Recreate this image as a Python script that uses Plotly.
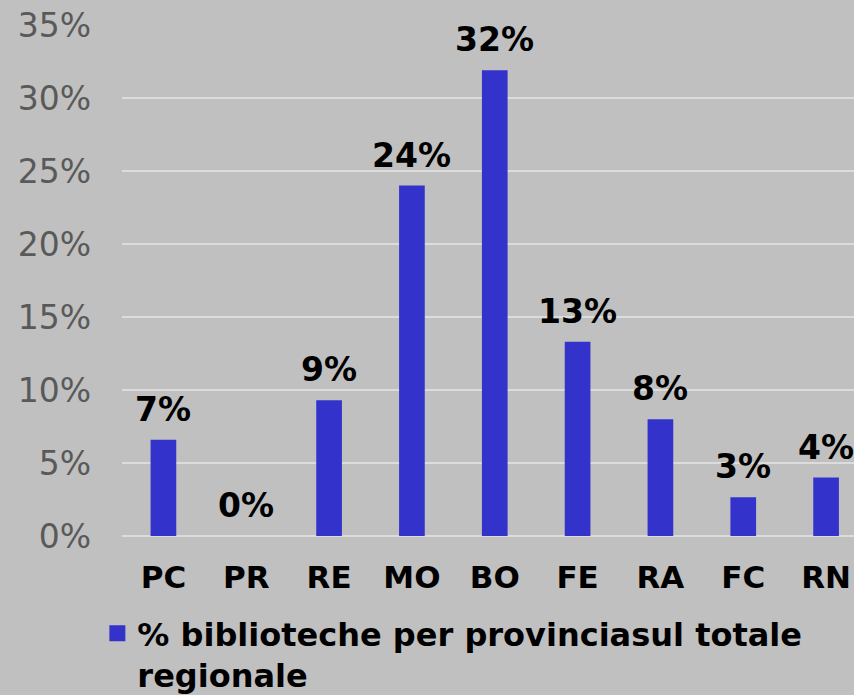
import plotly.graph_objects as go

categories = ["PC", "PR", "RE", "MO", "BO", "FE", "RA", "FC", "RN"]
values = [0.066, 0.0, 0.093, 0.240, 0.319, 0.133, 0.080, 0.0265, 0.040]
labels = ["7%", "0%", "9%", "24%", "32%", "13%", "8%", "3%", "4%"]
series_name = "% biblioteche per provinciasul totale<br>regionale"
y_ticks = [0, 0.05, 0.10, 0.15, 0.20, 0.25, 0.30, 0.35]

FONT = "DejaVu Sans"
BAR_COLOR = "#3333cc"
fig = go.Figure()
fig.add_trace(go.Bar(
    x=categories, y=values, name=series_name,
    marker=dict(color=BAR_COLOR, line=dict(width=0)),
    width=0.31, showlegend=False,
))
# legend entry for the series (larger square swatch)
fig.add_trace(go.Scatter(
    x=[None], y=[None], mode="markers", name=series_name,
    marker=dict(symbol="square", size=18, color=BAR_COLOR),
    showlegend=True, hoverinfo="skip",
))
for c, v, t in zip(categories, values, labels):
    fig.add_annotation(x=c, y=v, text="<b>%s</b>" % t, showarrow=False,
                       yanchor="bottom", yshift=9,
                       font=dict(family=FONT, size=33, color="black"))

fig.update_layout(
    width=854, height=695,
    paper_bgcolor="#c0c0c0", plot_bgcolor="#c0c0c0",
    margin=dict(l=122, r=0, t=25, b=159, autoexpand=False),
    font=dict(family=FONT),
    showlegend=True,
    legend=dict(
        xref="container", yref="container", x=0.114, y=1 - 606 / 695,
        xanchor="left", yanchor="top", valign="top",
        font=dict(family=FONT, size=32, color="black", weight="bold"),
        bgcolor="rgba(0,0,0,0)", itemwidth=30, tracegroupgap=0,
        itemsizing="trace",
    ),
)
fig.update_xaxes(
    range=[-0.5, 8.337], showgrid=False, showline=False, ticks="",
    tickfont=dict(family=FONT, size=31, color="black", weight="bold"),
    ticklabelstandoff=20, tickangle=0, automargin=False,
)
fig.update_yaxes(
    range=[0, 0.35], tickvals=y_ticks, tickformat=".0%",
    showgrid=True, gridcolor="#dcdcdc", gridwidth=2,
    zeroline=True, zerolinecolor="#dcdcdc", zerolinewidth=2,
    showline=False, ticks="", automargin=False,
    tickfont=dict(family=FONT, size=33, color="#595959"),
    ticklabelstandoff=30,
)
fig.write_html("out.html", config={"displayModeBar": False},
               post_script="document.body.style.margin='0';")
